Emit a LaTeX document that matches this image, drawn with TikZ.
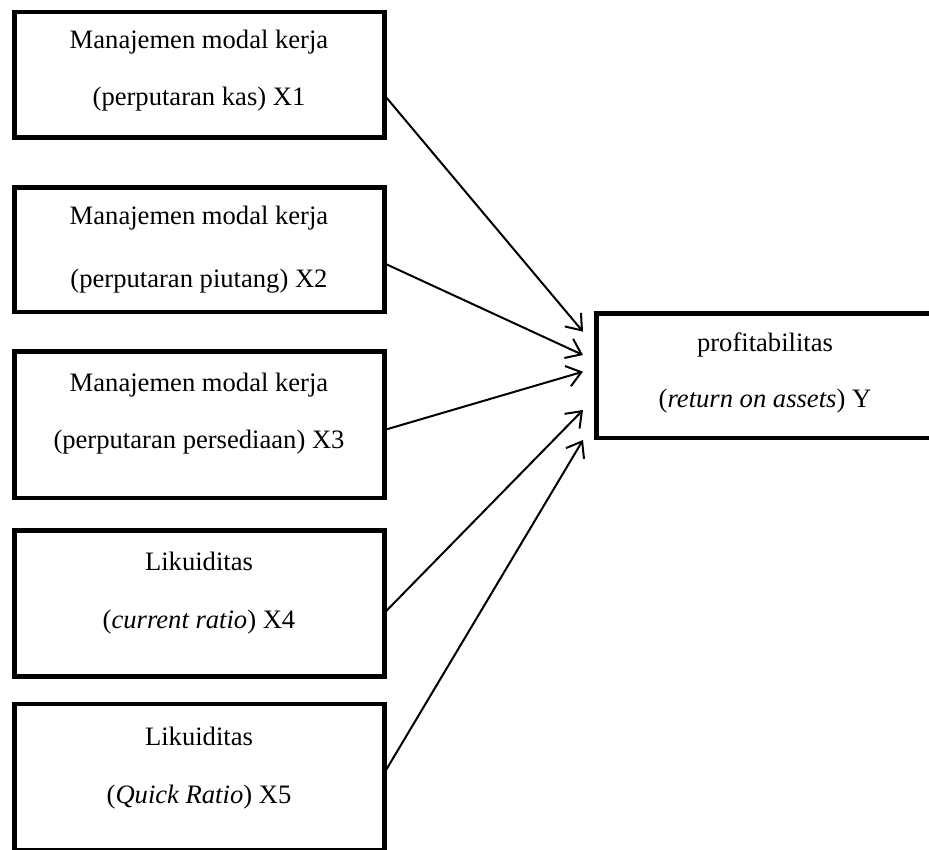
\documentclass[tikz,border=0pt]{standalone}
\usepackage{fontspec}
\setmainfont{Liberation Serif}
\usetikzlibrary{arrows.meta}
\begin{document}
\begin{tikzpicture}[x=1pt,y=-1pt,
  box/.style={draw=black, line width=4.5pt, inner sep=0pt, outer sep=0pt, fill=none},
  lbl/.style={anchor=base, inner sep=0pt, font=\fontsize{26.6pt}{30pt}\selectfont},
  conn/.style={line width=2pt, -{Straight Barb[length=14pt,width=21pt,line width=2pt]}}]
\useasboundingbox (0,0) rectangle (929,849);
\begin{scope}
\clip (0,0) rectangle (929,849);
% left boxes
\node[box, minimum width=370pt, minimum height=125.5pt] (b1) at (199.25,74.75) {};
\node[box, minimum width=370pt, minimum height=124.5pt] (b2) at (199.25,249.75) {};
\node[box, minimum width=370pt, minimum height=146.5pt] (b3) at (199.25,424.75) {};
\node[box, minimum width=370pt, minimum height=146pt] (b4) at (199.25,603.5) {};
\node[box, minimum width=370pt, minimum height=146pt] (b5) at (199.25,777) {};
% right box
\node[box, minimum width=338pt, minimum height=124.5pt] (r) at (765.5,375.75) {};
\end{scope}
% texts
\node[lbl] (t1a) at (199,48.3) {Manajemen modal kerja};
\node[lbl] (t1b) at (199,105) {(perputaran kas) X1};
\node[lbl] (t2a) at (199,224) {Manajemen modal kerja};
\node[lbl] (t2b) at (199,287.5) {(perputaran piutang) X2};
\node[lbl] (t3a) at (199,391.7) {Manajemen modal kerja};
\node[lbl] (t3b) at (199,448) {(perputaran persediaan) X3};
\node[lbl] (t4a) at (199,570.7) {Likuiditas};
\node[lbl] (t4b) at (199,628.3) {(\textit{current ratio}) X4};
\node[lbl] (t5a) at (199,745) {Likuiditas};
\node[lbl] (t5b) at (199,803.3) {(\textit{Quick Ratio}) X5};
\node[lbl] (tra) at (765,351.7) {profitabilitas};
\node[lbl] (trb) at (765,407.3) {(\textit{return on assets}) Y};
% connector endpoints
\coordinate (s1) at (b1.east |- 0,95);
\coordinate (s2) at (b2.east |- 0,263.3);
\coordinate (s3) at (b3.east |- 0,430);
\coordinate (s4) at (b4.east |- 0,613);
\coordinate (s5) at (b5.east |- 0,773);
\coordinate (e1) at (583,331.7);
\coordinate (e2) at (583,355);
\coordinate (e3) at (583,371.7);
\coordinate (e4) at (583,410);
\coordinate (e5) at (583,440);
\draw[conn] (s1) -- (e1);
\draw[conn] (s2) -- (e2);
\draw[conn] (s3) -- (e3);
\draw[conn] (s4) -- (e4);
\draw[conn] (s5) -- (e5);
\end{tikzpicture}
\end{document}
